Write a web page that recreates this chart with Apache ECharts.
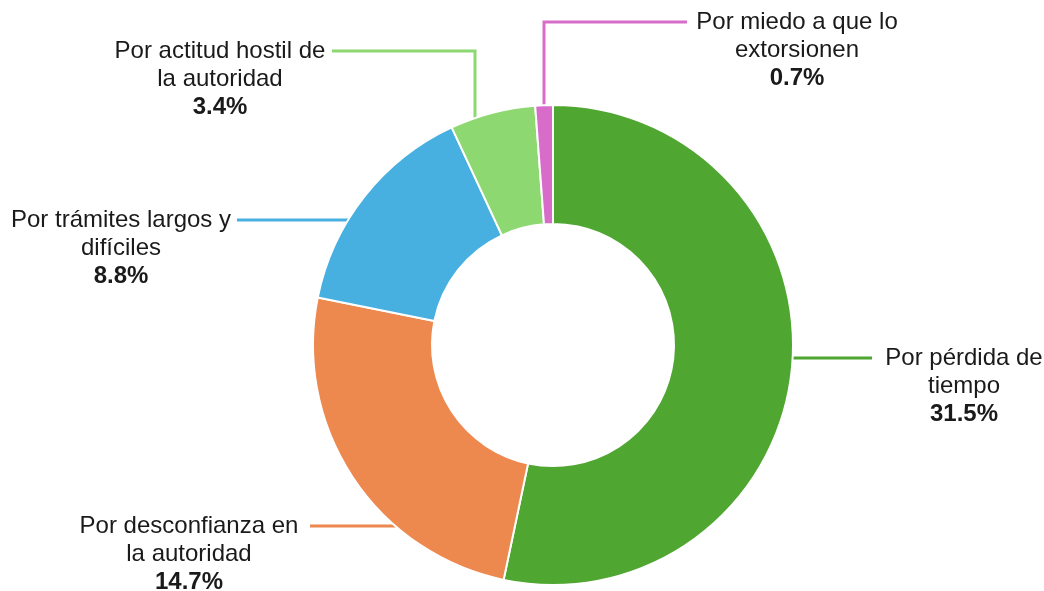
<!DOCTYPE html>
<html>
<head>
<meta charset="utf-8">
<script src="https://cdn.jsdelivr.net/npm/echarts@6/dist/echarts.min.js"></script>
<style>
  html, body { margin: 0; padding: 0; background: #fff; }
  #chart { width: 1044px; height: 591px; }
</style>
</head>
<body>
<div id="chart"></div>
<script>
// datos
var categories = [
  "Por pérdida de tiempo",
  "Por desconfianza en la autoridad",
  "Por trámites largos y difíciles",
  "Por actitud hostil de la autoridad",
  "Por miedo a que lo extorsionen"
];
var values = [31.5, 14.7, 8.8, 3.4, 0.7];
var colors = ["#4fa631", "#ed884f", "#47b0e0", "#8ed872", "#d76dc9"];

// geometria del anillo
var cx = 553, cy = 345, R = 240, r = 121;
var font = "Liberation Sans, Arial, sans-serif";
var fs = 24, lh = 28;

// posicion de etiquetas (y de la linea, final de la linea, centro del texto, ancho max.)
var place = [
  { y: 358, end: 872, tx: 964, w: 200 },
  { y: 526, end: 310, tx: 189, w: 228 },
  { y: 220, end: 237, tx: 121, w: 228 },
  { y: 51, end: 332, tx: 220, w: 228, vx: 475 },
  { y: 22, end: 687, tx: 797, w: 228, vx: 544 }
];

var ctx = document.createElement("canvas").getContext("2d");
ctx.font = fs + "px " + font;
function wrap(text, w) {
  var words = text.split(" "), lines = [], cur = "";
  words.forEach(function (wd) {
    var t = cur ? cur + " " + wd : wd;
    if (cur && ctx.measureText(t).width > w) { lines.push(cur); cur = wd; }
    else cur = t;
  });
  lines.push(cur);
  return lines;
}

var myChart = echarts.init(document.getElementById("chart"));
var option = {
  animation: false,
  color: colors,
  series: [
    {
      type: "pie",
      center: [cx, cy],
      radius: [r, R],
      startAngle: 90,
      clockwise: true,
      avoidLabelOverlap: false,
      itemStyle: { borderColor: "#fff", borderWidth: 2 },
      label: {
        show: true,
        position: "outer",
        formatter: function (p) {
          var ls = wrap(p.name, place[p.dataIndex].w).map(function (l) { return "{n|" + l + "}"; });
          ls.push("{v|" + p.value.toFixed(1) + "%}");
          return ls.join("\n");
        },
        rich: {
          n: { fontSize: fs, fontFamily: font, color: "#1a1a1a", lineHeight: lh, align: "center" },
          v: { fontSize: fs, fontFamily: font, color: "#1a1a1a", fontWeight: "bold", lineHeight: lh, align: "center" }
        }
      },
      labelLine: { show: true, lineStyle: { width: 3 } },
      labelLayout: function (params) {
        var p = place[params.dataIndex];
        var pts;
        if (p.vx != null) {
          var sy = cy - Math.sqrt(R * R - (p.vx - cx) * (p.vx - cx));
          pts = [[p.vx, sy], [p.vx, p.y], [p.end, p.y]];
        } else {
          var dx = Math.sqrt(R * R - (p.y - cy) * (p.y - cy));
          var sx = p.end > cx ? cx + dx : cx - dx;
          pts = [[sx, p.y], [sx, p.y], [p.end, p.y]];
        }
        return {
          x: p.tx,
          y: p.y - lh / 2,
          align: "center",
          verticalAlign: "top",
          labelLinePoints: pts
        };
      },
      data: categories.map(function (c, i) {
        return { name: c, value: values[i] };
      })
    }
  ]
};
option && myChart.setOption(option);
</script>
</body>
</html>
